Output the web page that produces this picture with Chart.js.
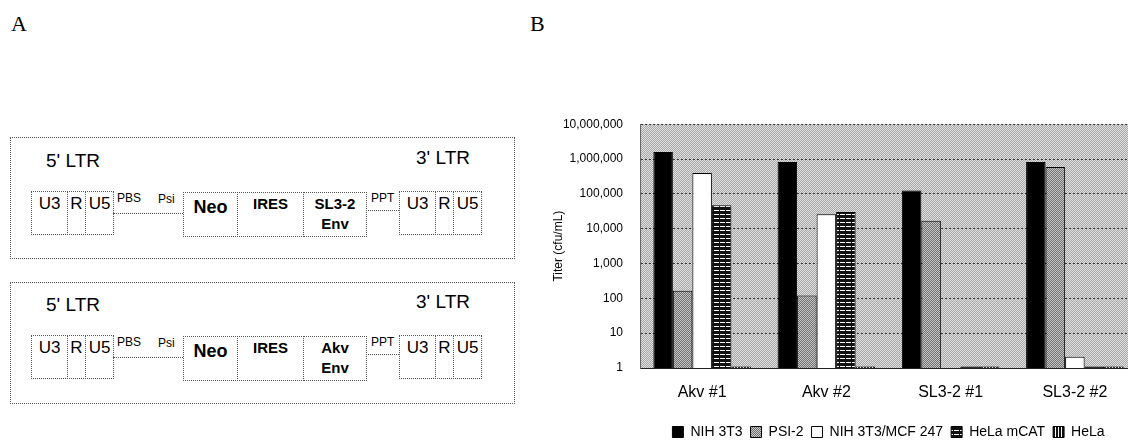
<!DOCTYPE html>
<html>
<head>
<meta charset="utf-8">
<script src="https://cdn.jsdelivr.net/npm/chart.js@4.4.0/dist/chart.umd.min.js"></script>
<style>
  html, body { margin:0; padding:0; width:1128px; height:446px; overflow:hidden; background:#fff; }
  body { position:relative; font-family:"Liberation Sans", Arial, sans-serif; color:#000; }
  .panel { position:absolute; font-family:"Liberation Serif", serif; font-size:22px; line-height:1; }
  .box { position:absolute; border:1px dotted #555; box-sizing:border-box; }
  .t { position:absolute; white-space:nowrap; line-height:1; }
  .c { text-align:center; }
  .line { position:absolute; height:0; border-top:1px dotted #555; }
  #wrap { position:absolute; left:540px; top:100px; width:597px; height:349px; }
</style>
</head>
<body>
<div class="panel" style="left:11px;top:13px">A</div>
<div class="panel" style="left:530px;top:13px">B</div>
<div id="schematic"></div>
<div id="wrap"><canvas id="myChart" width="597" height="349"></canvas></div>

<script>
// data
const categories = ['Akv #1', 'Akv #2', 'SL3-2 #1', 'SL3-2 #2'];
const seriesNames = ['NIH 3T3', 'PSI-2', 'NIH 3T3/MCF 247', 'HeLa mCAT', 'HeLa'];
const nih3t3   = [1600000, 820000, 125000, 820000];
const psi2     = [165, 120, 17000, 590000];
const mcf247   = [400000, 26000, 1, 2.1];
const helaMcat = [47000, 30000, 1.1, 1.1];
const hela     = [1.1, 1.1, 1.1, 1.1];
const tickValues = [1, 10, 100, 1000, 10000, 100000, 1000000, 10000000];
const tickLabels = ['1', '10', '100', '1,000', '10,000', '100,000', '1,000,000', '10,000,000'];
const envNames = [['SL3-2', 'Env'], ['Akv', 'Env']];

// panel A: two vector schematics
const host = document.getElementById('schematic');
function add(cls, x, y, w, h, text, style) {
  const el = document.createElement('div');
  el.className = cls;
  el.style.left = x + 'px';
  el.style.top = y + 'px';
  if (w != null) el.style.width = w + 'px';
  if (h != null) el.style.height = h + 'px';
  if (text) el.textContent = text;
  if (style) el.style.cssText += style;
  host.appendChild(el);
  return el;
}
function ltrBoxes(x0, dy) {
  add('box', x0, 191 + dy, 37, 44);
  add('box', x0 + 36, 191 + dy, 19, 44);
  add('box', x0 + 54, 191 + dy, 29, 44);
  add('t c', x0, 195 + dy, 37, null, 'U3', 'font-size:17px');
  add('t c', x0 + 36, 195 + dy, 19, null, 'R', 'font-size:17px');
  add('t c', x0 + 54, 195 + dy, 29, null, 'U5', 'font-size:17px');
}
envNames.forEach(function (env, i) {
  const dy = i * 144;
  add('box', 10, 137 + i * 145, 505, 122);
  add('t', 46, 150.5 + dy, null, null, "5' LTR", 'font-size:19px');
  add('t', 416, 148 + dy, null, null, "3' LTR", 'font-size:19px');
  ltrBoxes(31, dy);
  add('t', 117, 191.5 + dy, null, null, 'PBS', 'font-size:12px');
  add('line', 113, 213 + dy, 70);
  add('t', 158, 192.5 + dy, null, null, 'Psi', 'font-size:12px');
  add('box', 183, 192 + dy, 55, 45);
  add('box', 237, 192 + dy, 67, 45);
  add('box', 303, 192 + dy, 64, 45);
  add('t c', 183, 197.5 + dy, 55, null, 'Neo', 'font-size:18px;font-weight:bold');
  add('t c', 237, 196 + dy, 67, null, 'IRES', 'font-size:15px;font-weight:bold');
  add('t c', 303, 196 + dy, 64, null, env[0], 'font-size:15px;font-weight:bold');
  add('t c', 303, 216 + dy, 64, null, env[1], 'font-size:15px;font-weight:bold');
  add('t', 371, 191.5 + dy, null, null, 'PPT', 'font-size:12px');
  add('line', 366, 210 + dy, 33);
  ltrBoxes(399, dy);
});

// fill patterns
function pattern(w, h, draw) {
  const c = document.createElement('canvas');
  c.width = w; c.height = h;
  const g = c.getContext('2d');
  draw(g);
  return g.createPattern(c, 'repeat');
}
function checker(a, b) {
  return pattern(2, 2, function (g) {
    g.fillStyle = a; g.fillRect(0, 0, 2, 2);
    g.fillStyle = b; g.fillRect(0, 0, 1, 1); g.fillRect(1, 1, 1, 1);
  });
}
const bgPattern = checker('#a9a9a9', '#dedede');
const psiPattern = checker('#6e6e6e', '#c9c9c9');
const hStripes = pattern(6, 4, function (g) {
  g.fillStyle = '#111'; g.fillRect(0, 0, 6, 4);
  g.fillStyle = '#fff'; g.fillRect(0, 2, 5, 1);
});
const vStripes = pattern(3, 1, function (g) {
  g.fillStyle = '#111'; g.fillRect(0, 0, 3, 1);
  g.fillStyle = '#fff'; g.fillRect(2, 0, 1, 1);
});

const plotBackground = {
  id: 'plotBackground',
  beforeDraw: function (chart) {
    const a = chart.chartArea, c = chart.ctx;
    c.save();
    c.fillStyle = bgPattern;
    c.fillRect(a.left, a.top, a.right - a.left, a.bottom - a.top);
    c.restore();
  }
};

const fills = ['#000', psiPattern, '#fff', hStripes, vStripes];
const values = [nih3t3, psi2, mcf247, helaMcat, hela];
const font = '"Liberation Sans", Arial, sans-serif';

const ctx = document.getElementById('myChart').getContext('2d');
new Chart(ctx, {
  type: 'bar',
  data: {
    labels: categories,
    datasets: seriesNames.map(function (name, i) {
      return {
        label: name,
        data: values[i],
        backgroundColor: fills[i],
        borderColor: '#000',
        borderWidth: 1,
        categoryPercentage: 0.785,
        barPercentage: 1.0
      };
    })
  },
  options: {
    responsive: false,
    animation: false,
    layout: { padding: { top: 24, left: 0, right: 0, bottom: 0 } },
    plugins: {
      legend: {
        position: 'bottom',
        fullSize: false,
        labels: { color: '#000', font: { family: font, size: 14 }, boxWidth: 11, boxHeight: 11, padding: 8 }
      },
      tooltip: { enabled: false }
    },
    scales: {
      x: {
        grid: { display: false, drawTicks: false },
        border: { display: true, color: '#222', width: 1 },
        ticks: { color: '#000', font: { family: font, size: 16 }, padding: 15 },
        afterFit: function (s) { s.height = 49; }
      },
      y: {
        type: 'logarithmic',
        min: 1,
        max: 10000000,
        afterBuildTicks: function (s) { s.ticks = tickValues.map(function (v) { return { value: v }; }); },
        ticks: {
          color: '#000',
          font: { family: font, size: 12 },
          padding: 17,
          callback: function (v) { return tickLabels[tickValues.indexOf(v)]; }
        },
        grid: { color: '#333', lineWidth: 1, drawTicks: false },
        border: { display: true, color: '#666', dash: [2, 2] },
        title: { display: true, text: 'Titer (cfu/mL)', color: '#000', font: { family: font, size: 12 }, padding: { top: 11, bottom: 0 } },
        afterFit: function (s) { s.width = 100; }
      }
    }
  },
  plugins: [plotBackground]
});
</script>
</body>
</html>
